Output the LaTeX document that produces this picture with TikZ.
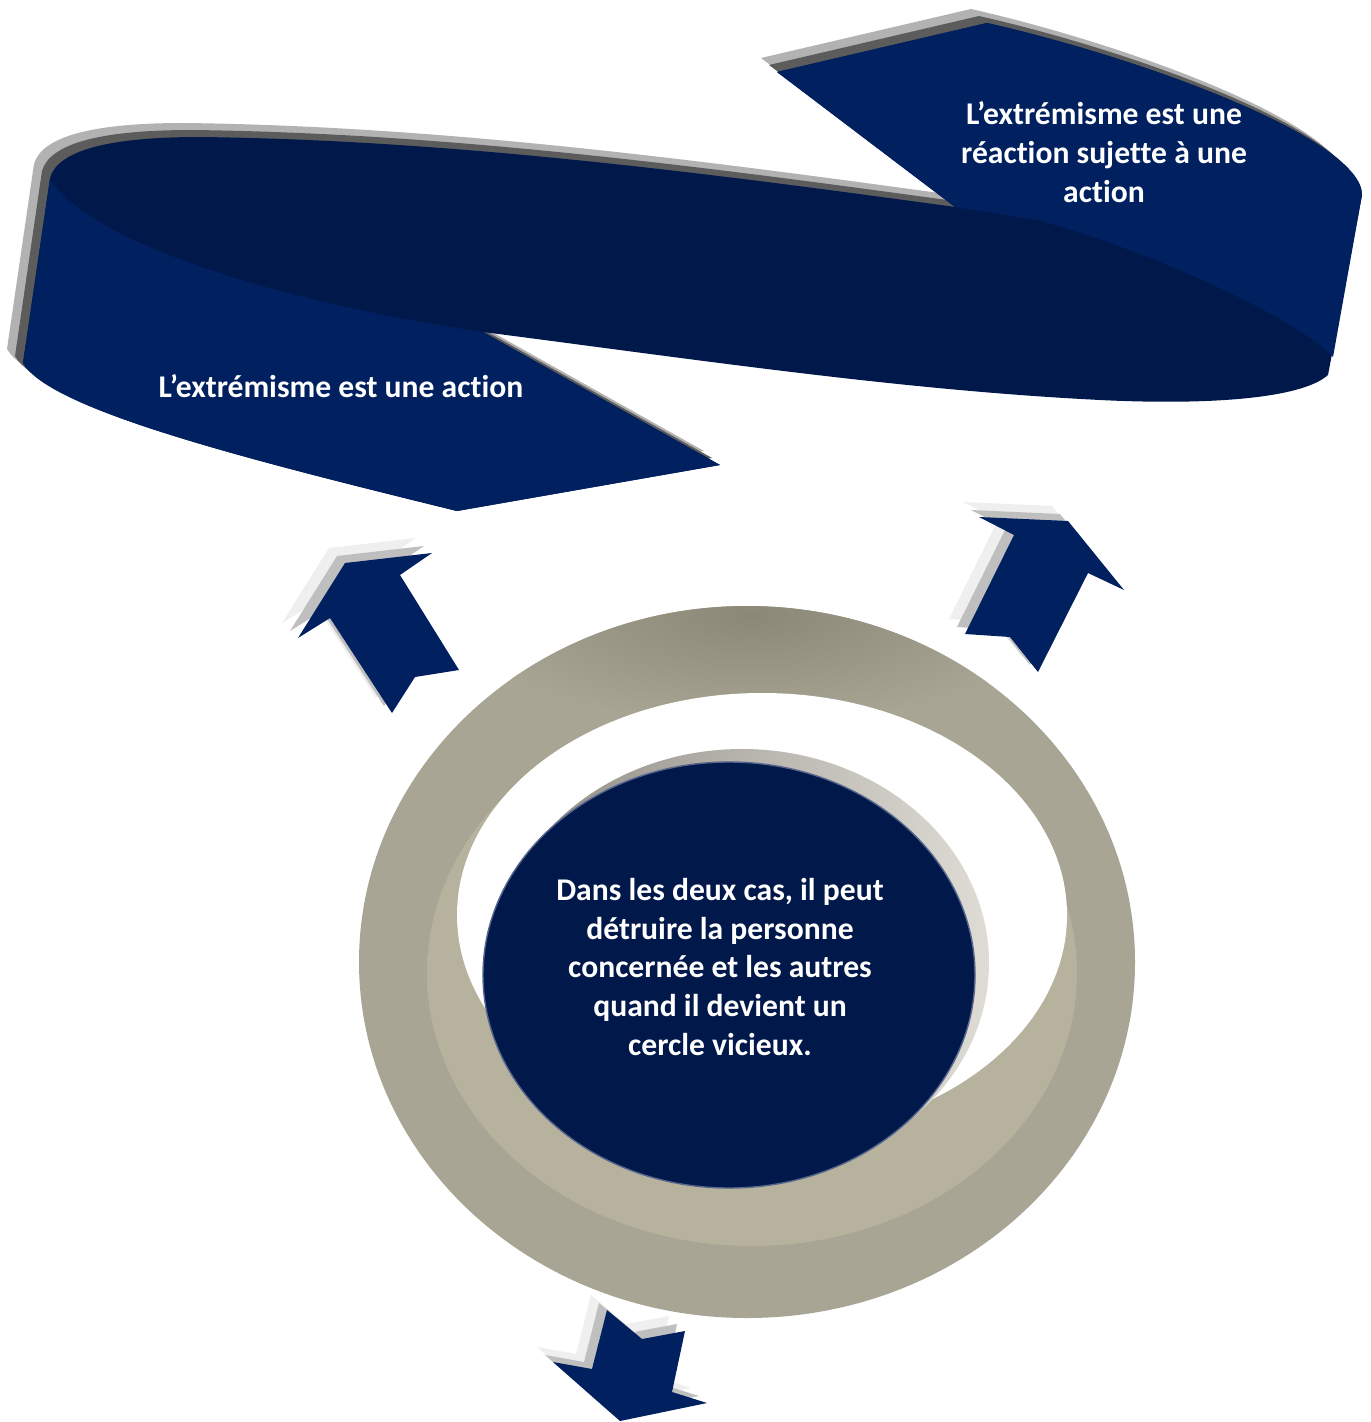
\documentclass[tikz,border=0pt]{standalone}
\usepackage{fontspec}
\setmainfont{Carlito}[Ligatures=NoCommon]
\usepackage{tikz}

\definecolor{navy}{HTML}{002060}
\definecolor{navydark}{HTML}{00194A}
\definecolor{shadelight}{HTML}{B2B2B2}
\definecolor{shadedark}{HTML}{5C5C5C}
\definecolor{arrowpale}{HTML}{EFEFEF}
\definecolor{arrowgrey}{HTML}{BFBFBF}
\definecolor{ringgrey}{HTML}{A8A594}
\definecolor{ringdark}{HTML}{8B8878}
\definecolor{ringbeige}{HTML}{B7B29E}
\definecolor{discshadeA}{HTML}{8C8A82}
\definecolor{discshadeB}{HTML}{DEDCD4}
\definecolor{discrim}{HTML}{56658C}

% outlines, in pixel units of the page
\newcommand{\ribbonpath}{(23,363) -- (50,178) .. controls (58,150) and (110,137) .. (200,137)
  .. controls (450,140) and (700,172) .. (955,207) -- (777,72) -- (987,23)
  .. controls (1150,60) and (1362,140) .. (1362,195) -- (1328,375)
  .. controls (1300,400) and (1200,405) .. (1100,400)
  .. controls (900,390) and (700,360) .. (483,332) -- (720,465) -- (457,511)
  .. controls (250,460) and (50,410) .. (23,363) -- cycle}
\newcommand{\arrowleftpath}{(345,563) -- (432,553) -- (400,575) -- (459,670) -- (415,677) -- (392,713) -- (330,618) -- (298,638) -- cycle}
\newcommand{\arrowrightpath}{(979,517) -- (1068,521) -- (1124,590) -- (1088,573) -- (1038,672) -- (1010,637) -- (965,634) -- (1014,535) -- cycle}
\newcommand{\arrowdownpath}{(607,1310) -- (642,1339) -- (685,1331) -- (672,1392) -- (707,1403) -- (620,1421) -- (553,1362) -- (592,1369) -- cycle}

\begin{document}
\begin{tikzpicture}[
  x=0.02cm, y=-0.02cm,
  bandtext/.style={text=white, align=center, inner sep=0pt, font=\fontsize{18}{22.1}\selectfont\bfseries}
]
\useasboundingbox (0,0) rectangle (1371,1422);
\fill[white] (0,0) rectangle (1371,1422);

% ribbon with its two shadow layers
\fill[shadelight, shift={(-16,-14)}] \ribbonpath;
\fill[shadedark, shift={(-8,-7)}] \ribbonpath;
\fill[navydark] \ribbonpath;
\fill[navy] (50,180) .. controls (100,250) and (300,305) .. (483,332) -- (720,465) -- (457,511)
  .. controls (250,460) and (50,410) .. (23,363) -- cycle;
\fill[navy] (955,207) -- (777,72) -- (987,23) .. controls (1150,60) and (1362,140) .. (1362,195)
  -- (1333,357) .. controls (1300,320) and (1150,250) .. (1037,220) -- cycle;

\node[bandtext] (actionlbl) at (341,386) {L’extrémisme est une action};
\node[bandtext] (reactionlbl) at (1104,152) {L’extrémisme est une\\réaction sujette à une\\action};

% arrows
\foreach \dx/\dy/\col in {-16/-15/arrowpale, -8/-7/arrowgrey, 0/0/navy} {
  \fill[\col, shift={(\dx,\dy)}] \arrowleftpath;
  \fill[\col, shift={(\dx,\dy)}] \arrowrightpath;
  \fill[\col, shift={(\dx,\dy)}] \arrowdownpath;
}

% ring
\fill[ringgrey] (747,962) ellipse [x radius=388, y radius=356];
\begin{scope}
  \clip (747,962) ellipse [x radius=388, y radius=356];
  \shade[inner color=ringdark, outer color=ringgrey] (752,615) ellipse [x radius=300, y radius=110];
\end{scope}
\shade[left color=ringbeige, middle color=ringdark, right color=ringbeige] (752,973) ellipse [x radius=325, y radius=273];
\fill[white] (762,915) ellipse [x radius=305, y radius=222];

% disc
\shade[left color=discshadeA, right color=discshadeB] (742,963) ellipse [x radius=247, y radius=214];
\fill[navydark, draw=discrim, line width=0.8pt] (729,975) ellipse [x radius=246, y radius=213];

\node[bandtext] (cerclelbl) at (720,967) {Dans les deux cas, il peut\\détruire la personne\\concernée et les autres\\quand il devient un\\cercle vicieux.};
\end{tikzpicture}
\end{document}
